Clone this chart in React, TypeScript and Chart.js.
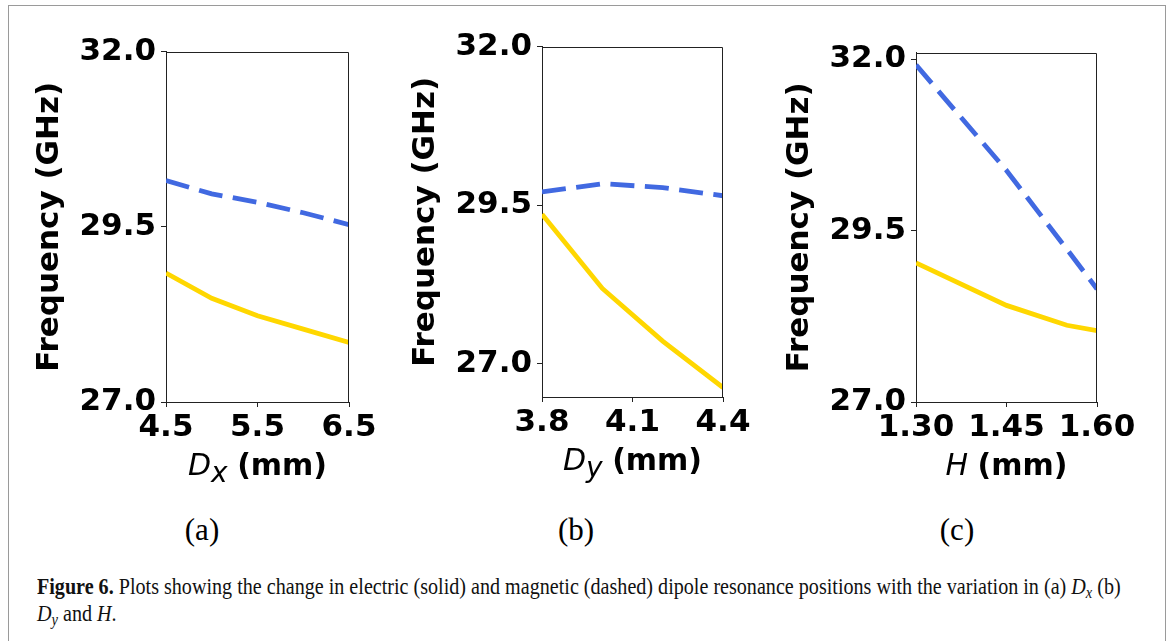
import React, { useEffect, useLayoutEffect, useRef } from "react";
import { Chart, registerables } from "chart.js";

Chart.register(...registerables);

// ---------- data ----------
// (a) D_x sweep
const dxValues = [4.5, 5.0, 5.5, 6.0, 6.5];
const dxElectric = [28.84, 28.48, 28.23, 28.04, 27.85];
const dxMagnetic = [30.16, 29.97, 29.85, 29.7, 29.53];
const dxTickLabels = ["4.5", "5.5", "6.5"];
const dxYRange = [27.0, 32.0];

// (b) D_y sweep
const dyValues = [3.8, 4.0, 4.2, 4.4];
const dyElectric = [29.36, 28.19, 27.36, 26.63];
const dyMagnetic = [29.71, 29.84, 29.78, 29.65];
const dyTickLabels = ["3.8", "4.1", "4.4"];
const dyYRange = [26.48, 32.0];

// (c) H sweep
const hValues = [1.3, 1.45, 1.55, 1.6];
const hElectric = [29.03, 28.41, 28.12, 28.04];
const hMagnetic = [31.92, 30.38, 29.23, 28.65];
const hTickLabels = ["1.30", "1.45", "1.60"];
const hYRange = [27.0, 32.1];

const freqTickLabels = ["27.0", "29.5", "32.0"];
const yTitle = "Frequency (GHz)";

// ---------- styling ----------
const ELECTRIC_COLOR = "#FFD700";
const MAGNETIC_COLOR = "#4169E1";
const Y_AXIS_W = 140;
const X_AXIS_H = 50;
const TOP_PAD = 20;
const RIGHT_PAD = 42;
const SANS = "'DejaVu Sans', sans-serif";
const SERIF = "'Liberation Serif', serif";

const framePlugin = {
  id: "frameTopRight",
  afterDraw(chart: any) {
    const { ctx, chartArea: a } = chart;
    ctx.save();
    ctx.strokeStyle = "#222";
    ctx.lineWidth = 1;
    ctx.beginPath();
    const top = Math.round(a.top) + 0.5;
    const right = Math.round(a.right) - 0.5;
    ctx.moveTo(a.left, top);
    ctx.lineTo(right, top);
    ctx.lineTo(right, a.bottom);
    ctx.stroke();
    ctx.restore();
  },
};

type Area = { left: number; top: number; right: number; bottom: number };

function Panel(props: {
  xs: number[];
  electric: number[];
  magnetic: number[];
  xTickLabels: string[];
  yRange: number[];
  area: Area;
}) {
  const ref = useRef<HTMLCanvasElement>(null);
  const { xs, electric, magnetic, xTickLabels, yRange, area } = props;
  const width = Y_AXIS_W + (area.right - area.left) + RIGHT_PAD;
  const height = TOP_PAD + (area.bottom - area.top) + X_AXIS_H;

  useEffect(() => {
    if (!ref.current) return;
    const tickFont = { family: SANS, size: 31, weight: "bold" as const };
    const grid = {
      display: true,
      drawOnChartArea: false,
      drawTicks: true,
      tickLength: 5,
      color: "#222",
      lineWidth: 1,
    };
    const border = { display: true, color: "#222", width: 1 };
    const chart = new Chart(ref.current, {
      type: "line",
      data: {
        datasets: [
          {
            data: xs.map((x, i) => ({ x, y: electric[i] })),
            borderColor: ELECTRIC_COLOR,
            borderWidth: 4.8,
            pointRadius: 0,
            tension: 0,
            fill: false,
            clip: 0,
          } as any,
          {
            data: xs.map((x, i) => ({ x, y: magnetic[i] })),
            borderColor: MAGNETIC_COLOR,
            borderWidth: 4.8,
            borderDash: [24, 10.5],
            pointRadius: 0,
            tension: 0,
            fill: false,
            clip: 0,
          } as any,
        ],
      },
      options: {
        animation: false,
        responsive: false,
        maintainAspectRatio: false,
        events: [],
        layout: { padding: { top: TOP_PAD, right: RIGHT_PAD, left: 0, bottom: 0 } },
        plugins: { legend: { display: false }, tooltip: { enabled: false } },
        scales: {
          x: {
            type: "linear",
            min: xs[0],
            max: xs[xs.length - 1],
            afterBuildTicks: (s: any) => {
              s.ticks = xTickLabels.map((t) => ({ value: parseFloat(t) }));
            },
            afterFit: (s: any) => {
              s.height = X_AXIS_H;
            },
            ticks: {
              font: tickFont,
              color: "#000",
              padding: 2,
              maxRotation: 0,
              autoSkip: false,
              callback: (_v: any, i: number) => xTickLabels[i],
            },
            grid,
            border,
          },
          y: {
            type: "linear",
            min: yRange[0],
            max: yRange[1],
            afterBuildTicks: (s: any) => {
              s.ticks = freqTickLabels.map((t) => ({ value: parseFloat(t) }));
            },
            afterFit: (s: any) => {
              s.width = Y_AXIS_W;
            },
            ticks: {
              font: tickFont,
              color: "#000",
              padding: 5,
              autoSkip: false,
              callback: (_v: any, i: number) => freqTickLabels[i],
            },
            title: {
              display: true,
              text: yTitle,
              color: "#000",
              font: { family: SANS, size: 31, weight: "bold" as const },
              padding: { top: 5.5, bottom: 0 },
            },
            grid,
            border,
          },
        },
      } as any,
      plugins: [framePlugin],
    });
    return () => chart.destroy();
  }, []);

  return (
    <canvas
      ref={ref}
      width={width}
      height={height}
      style={{
        position: "absolute",
        left: area.left - Y_AXIS_W,
        top: area.top - TOP_PAD,
        width,
        height,
      }}
    />
  );
}

function XLabel(props: { cx: number; baseline: number; children: React.ReactNode }) {
  return (
    <div
      style={{
        position: "absolute",
        left: props.cx - 200,
        width: 400,
        top: props.baseline - 25.4,
        textAlign: "center",
        fontFamily: SANS,
        fontSize: 30,
        lineHeight: "30px",
        whiteSpace: "nowrap",
        color: "#000",
      }}
    >
      {props.children}
    </div>
  );
}

function SubLetter(props: { letter: string; sub?: string }) {
  return (
    <>
      <span style={{ fontStyle: "italic" }}>{props.letter}</span>
      {props.sub ? (
        <span style={{ fontStyle: "italic", fontSize: 28, position: "relative", top: 7 }}>
          {props.sub}
        </span>
      ) : null}
    </>
  );
}

function SubLabel(props: { cx: number; text: string }) {
  return (
    <div
      style={{
        position: "absolute",
        left: props.cx - 60,
        width: 120,
        top: 514,
        textAlign: "center",
        fontFamily: SERIF,
        fontSize: 31,
        lineHeight: "31px",
        color: "#000",
      }}
    >
      {props.text}
    </div>
  );
}

function Caption() {
  const l1 = useRef<HTMLSpanElement>(null);
  const l2 = useRef<HTMLSpanElement>(null);
  useLayoutEffect(() => {
    if (!l1.current || !l2.current) return;
    const w = l1.current.offsetWidth;
    const k = w > 0 ? 1084 / w : 1;
    l1.current.style.transform = `scaleX(${k})`;
    l2.current.style.transform = `scaleX(${k})`;
  }, []);
  const lineStyle: React.CSSProperties = {
    display: "inline-block",
    whiteSpace: "nowrap",
    transformOrigin: "0 0",
  };
  const sub: React.CSSProperties = { fontStyle: "italic", fontSize: "0.72em", position: "relative", top: "0.22em" };
  return (
    <div
      style={{
        position: "absolute",
        left: 37,
        top: 574,
        fontFamily: SERIF,
        fontSize: 23,
        lineHeight: "25px",
        color: "#111",
      }}
    >
      <div>
        <span ref={l1} style={lineStyle}>
          <b>Figure 6.</b> Plots showing the change in electric (solid) and magnetic (dashed) dipole
          resonance positions with the variation in (a) <i>D</i>
          <span style={sub}>x</span> (b)
        </span>
      </div>
      <div>
        <span ref={l2} style={lineStyle}>
          <i>D</i>
          <span style={sub}>y</span> and <i>H</i>.
        </span>
      </div>
    </div>
  );
}

const areaA: Area = { left: 166, top: 48, right: 349, bottom: 402 };
const areaB: Area = { left: 542, top: 43, right: 723, bottom: 397 };
const areaC: Area = { left: 916, top: 49, right: 1097, bottom: 402 };
const mid = (a: Area) => (a.left + a.right) / 2;

export default function App() {
  return (
    <div
      style={{
        position: "absolute",
        left: 0,
        top: 0,
        width: 1171,
        height: 641,
        overflow: "hidden",
        background: "#fff",
      }}
    >
      <div
        style={{
          position: "absolute",
          left: 8,
          top: 5,
          width: 1156,
          height: 700,
          borderTop: "1px solid #9a9a9a",
          borderLeft: "1px solid #9a9a9a",
          borderRight: "1px solid #9a9a9a",
        }}
      />
      <Panel xs={dxValues} electric={dxElectric} magnetic={dxMagnetic} xTickLabels={dxTickLabels} yRange={dxYRange} area={areaA} />
      <Panel xs={dyValues} electric={dyElectric} magnetic={dyMagnetic} xTickLabels={dyTickLabels} yRange={dyYRange} area={areaB} />
      <Panel xs={hValues} electric={hElectric} magnetic={hMagnetic} xTickLabels={hTickLabels} yRange={hYRange} area={areaC} />

      <XLabel cx={mid(areaA)} baseline={475}>
        <SubLetter letter="D" sub="x" /> <b>(mm)</b>
      </XLabel>
      <XLabel cx={mid(areaB)} baseline={470}>
        <SubLetter letter="D" sub="y" /> <b>(mm)</b>
      </XLabel>
      <XLabel cx={mid(areaC)} baseline={475}>
        <SubLetter letter="H" /> <b>(mm)</b>
      </XLabel>

      <SubLabel cx={202} text="(a)" />
      <SubLabel cx={576} text="(b)" />
      <SubLabel cx={957} text="(c)" />

      <Caption />
    </div>
  );
}
